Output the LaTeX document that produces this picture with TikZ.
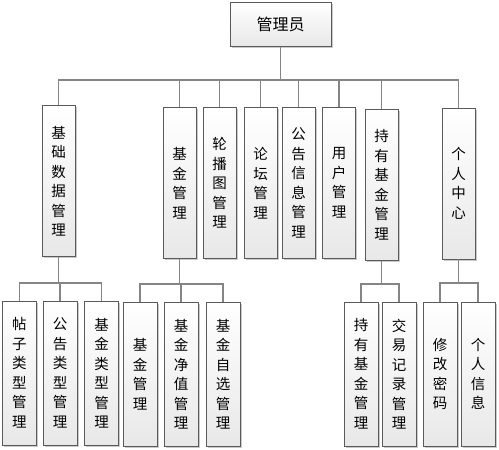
\documentclass[tikz,border=0pt]{standalone}
\usepackage{fontspec}
\setmainfont{Noto Sans CJK SC}
\usetikzlibrary{shadows}
\definecolor{linec}{HTML}{858585}
\definecolor{boxc}{HTML}{5A5A5A}
\tikzset{
  box/.style={draw=boxc, line width=0.9pt, top color=white, bottom color=black!9,
    drop shadow={shadow xshift=1.6pt, shadow yshift=-1.6pt, fill=black!35, opacity=0.6},
    inner sep=0pt, align=center, font=\fontsize{14.5}{19.5}\selectfont},
  lvone/.style={box, minimum width=33pt, minimum height=151pt},
  lvtwo/.style={box, minimum width=34pt, minimum height=144pt},
  conn/.style={draw=linec, line width=1.4pt},
}
\begin{document}
\begin{tikzpicture}[x=1pt, y=-1pt]
\useasboundingbox (0,0) rectangle (499,450);
% root
\node[box, minimum width=101pt, minimum height=44pt, font=\fontsize{16}{18}\selectfont] (root) at (280.5,24.5) {管理员};
% level one
\node[lvone] (A) at (58.5,181) {基\\础\\数\\据\\管\\理};
\node[lvone] (B) at (179.5,183) {基\\金\\管\\理};
\node[lvone] (C) at (219.5,183) {轮\\播\\图\\管\\理};
\node[lvone] (D) at (260.5,183) {论\\坛\\管\\理};
\node[lvone] (E) at (298.5,183) {公\\告\\信\\息\\管\\理};
\node[lvone] (F) at (339,183) {用\\户\\管\\理};
\node[lvone] (G) at (381.5,185) {持\\有\\基\\金\\管\\理};
\node[lvone] (H) at (458.5,183.5) {个\\人\\中\\心};
% level two
\node[lvtwo] (a1) at (19.5,373) {帖\\子\\类\\型\\管\\理};
\node[lvtwo] (a2) at (60,373) {公\\告\\类\\型\\管\\理};
\node[lvtwo] (a3) at (101.5,373) {基\\金\\类\\型\\管\\理};
\node[lvtwo] (b1) at (140,374) {基\\金\\管\\理};
\node[lvtwo] (b2) at (181,374) {基\\金\\净\\值\\管\\理};
\node[lvtwo] (b3) at (223,374) {基\\金\\自\\选\\管\\理};
\node[lvtwo] (g1) at (361,374) {持\\有\\基\\金\\管\\理};
\node[lvtwo] (g2) at (399,374) {交\\易\\记\\录\\管\\理};
\node[lvtwo] (h1) at (440,374) {修\\改\\密\\码};
\node[lvtwo] (h2) at (478,374) {个\\人\\信\\息};
% junctions
\coordinate (j0) at (280.5,80);
\coordinate (ja) at (58.5,283);
\coordinate (jb) at (179.5,284);
\coordinate (jg) at (381.5,284);
\coordinate (jh) at (458.5,283);
% connectors
\draw[conn] (root.south) -- (j0);
\foreach \n in {A,B,C,D,E,F,G,H} { \draw[conn] (j0) -| (\n.north); }
\draw[conn] (A.south) -- (ja);
\foreach \n in {a1,a2,a3} { \draw[conn] (ja) -| (\n.north); }
\draw[conn] (B.south) -- (jb);
\foreach \n in {b1,b2,b3} { \draw[conn] (jb) -| (\n.north); }
\draw[conn] (G.south) -- (jg);
\foreach \n in {g1,g2} { \draw[conn] (jg) -| (\n.north); }
\draw[conn] (H.south) -- (jh);
\foreach \n in {h1,h2} { \draw[conn] (jh) -| (\n.north); }
\end{tikzpicture}
\end{document}
